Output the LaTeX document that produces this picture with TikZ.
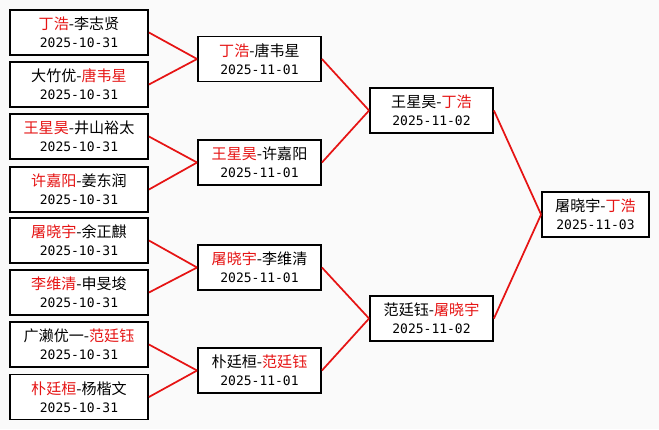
\documentclass[tikz,border=0pt]{standalone}
\usepackage{fontspec}
\setmainfont{Noto Sans CJK SC}
\newfontfamily\datefont{DejaVu Sans Mono}
\definecolor{winred}{RGB}{230,20,20}
\definecolor{bgcol}{RGB}{250,250,250}
\newcommand{\W}[1]{\textcolor{winred}{#1}}
\newcommand{\D}[1]{{\datefont\fontsize{9.75pt}{13.5pt}\selectfont #1}}
\tikzset{
  match/.style={draw=black, line width=1.4pt, fill=white, minimum height=33.75pt,
    inner sep=0pt, align=center, font=\fontsize{11.3pt}{13.5pt}\selectfont},
  r1/.style={match, minimum width=103.5pt},
  r2/.style={match, minimum width=92.25pt},
  r4/.style={match, minimum width=80.25pt},
  link/.style={draw=winred, line width=1.3pt}
}
\begin{document}
\begin{tikzpicture}[x=0.75pt,y=-0.75pt]
\fill[bgcol] (0,0) rectangle (659,429);
\useasboundingbox (0,0) rectangle (659,429);
% round 1
\node[r1] (a1) at (79,32.5) {\W{丁浩}-李志贤\\\D{2025-10-31}};
\node[r1] (a2) at (79,84.5) {大竹优-\W{唐韦星}\\\D{2025-10-31}};
\node[r1] (a3) at (79,136.5) {\W{王星昊}-井山裕太\\\D{2025-10-31}};
\node[r1] (a4) at (79,189.5) {\W{许嘉阳}-姜东润\\\D{2025-10-31}};
\node[r1] (a5) at (79,240.5) {\W{屠晓宇}-余正麒\\\D{2025-10-31}};
\node[r1] (a6) at (79,292.5) {\W{李维清}-申旻埈\\\D{2025-10-31}};
\node[r1] (a7) at (79,344.5) {广濑优一-\W{范廷钰}\\\D{2025-10-31}};
\node[r1] (a8) at (79,397) {\W{朴廷桓}-杨楷文\\\D{2025-10-31}};
% round 2
\node[r2] (b1) at (259.5,59) {\W{丁浩}-唐韦星\\\D{2025-11-01}};
\node[r2] (b2) at (259.5,162.5) {\W{王星昊}-许嘉阳\\\D{2025-11-01}};
\node[r2] (b3) at (259.5,267.5) {\W{屠晓宇}-李维清\\\D{2025-11-01}};
\node[r2] (b4) at (259.5,370.5) {朴廷桓-\W{范廷钰}\\\D{2025-11-01}};
% round 3
\node[r2] (c1) at (431.5,110.5) {王星昊-\W{丁浩}\\\D{2025-11-02}};
\node[r2] (c2) at (431.5,318.5) {范廷钰-\W{屠晓宇}\\\D{2025-11-02}};
% final
\node[r4] (d1) at (595.5,214.5) {屠晓宇-\W{丁浩}\\\D{2025-11-03}};
% connectors
\draw[link] (a1.east) -- (b1.west);
\draw[link] (a2.east) -- (b1.west);
\draw[link] (a3.east) -- (b2.west);
\draw[link] (a4.east) -- (b2.west);
\draw[link] (a5.east) -- (b3.west);
\draw[link] (a6.east) -- (b3.west);
\draw[link] (a7.east) -- (b4.west);
\draw[link] (a8.east) -- (b4.west);
\draw[link] (b1.east) -- (c1.west);
\draw[link] (b2.east) -- (c1.west);
\draw[link] (b3.east) -- (c2.west);
\draw[link] (b4.east) -- (c2.west);
\draw[link] (c1.east) -- (d1.west);
\draw[link] (c2.east) -- (d1.west);
\end{tikzpicture}
\end{document}
